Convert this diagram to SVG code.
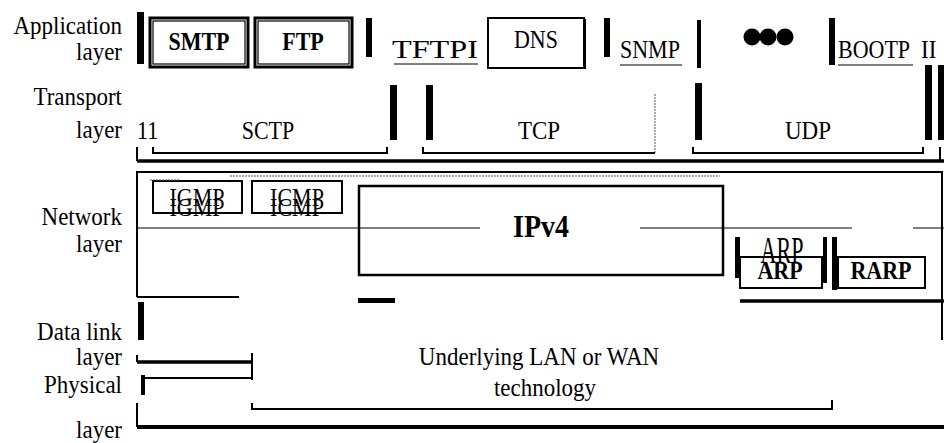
<svg xmlns="http://www.w3.org/2000/svg" width="944" height="443" viewBox="0 0 944 443">
<style>
text{font-family:"Liberation Serif","Times New Roman",serif;font-size:22px;fill:#000}
.lbl{text-anchor:end;font-size:23px}
.big{font-size:23px}
.b{font-weight:bold}
.mid{text-anchor:middle}
.box{fill:none;stroke:#000;stroke-width:2}
.box3{fill:none;stroke:#000;stroke-width:3}
.bar{fill:#000}
.ln{fill:none;stroke:#000;stroke-width:2}
.thin{fill:none;stroke:#000;stroke-width:1.2}
.dot{fill:none;stroke:#555;stroke-width:1;stroke-dasharray:2 1}
.thick{fill:none;stroke:#000;stroke-width:3.5}
</style>
<rect width="944" height="443" fill="#fff"/>

<g id="labels">
<text class="lbl" x="122" y="34" transform="matrix(1 0 0 1.12 0 -4.08)">Application</text>
<text class="lbl" x="122" y="60" transform="matrix(1 0 0 1.12 0 -7.2)">layer</text>
<text class="lbl" x="122" y="105" transform="matrix(1 0 0 1.12 0 -12.6)">Transport</text>
<text class="lbl" x="122" y="138" transform="matrix(1 0 0 1.12 0 -16.56)">layer</text>
<text class="lbl" x="122" y="225" transform="matrix(1 0 0 1.12 0 -27)">Network</text>
<text class="lbl" x="122" y="252" transform="matrix(1 0 0 1.12 0 -30.24)">layer</text>
<text class="lbl" x="122" y="340" transform="matrix(1 0 0 1.12 0 -40.8)">Data link</text>
<text class="lbl" x="122" y="365" transform="matrix(1 0 0 1.12 0 -43.8)">layer</text>
<text class="lbl" x="122" y="393" transform="matrix(1 0 0 1.12 0 -47.16)">Physical</text>
<text class="lbl" x="122" y="438" transform="matrix(1 0 0 1.12 0 -52.56)">layer</text>
</g>

<g id="application">
<rect class="bar" x="137" y="12" width="7" height="52"/>
<g id="smtp"><rect class="box3" x="150" y="18" width="98" height="49"/><rect class="thin" x="153" y="21" width="92" height="43"/><text class="b mid" x="199" y="50" transform="matrix(1 0 0 1.12 0 -6)">SMTP</text></g>
<g id="ftp"><rect class="box3" x="255" y="18" width="97" height="49"/><rect class="thin" x="258" y="21" width="91" height="43"/><text class="b mid" x="303" y="50" transform="matrix(1 0 0 1.12 0 -6)">FTP</text></g>
<rect class="bar" x="366" y="18" width="6" height="39"/>
<g id="tftp"><text x="392" y="58" textLength="86" lengthAdjust="spacingAndGlyphs" transform="matrix(1 0 0 1.12 0 -6.96)">TFTPI</text></g>
<g id="dns"><rect class="box" x="488" y="18" width="96" height="50"/><path class="ln" d="M489,68 H585 V19"/><text class="mid" x="536" y="48" transform="matrix(1 0 0 1.12 0 -5.76)">DNS</text></g>
<rect class="bar" x="604" y="18" width="6" height="39"/>
<g id="snmp"><text x="620" y="58" transform="matrix(1 0 0 1.12 0 -6.96)">SNMP</text></g>
<rect class="bar" x="697" y="20" width="4" height="48"/>
<g id="dots"><circle cx="752" cy="37" r="8.5"/><circle cx="768" cy="37" r="8.5"/><circle cx="785" cy="37" r="8.5"/></g>
<rect class="bar" x="829" y="18" width="6" height="47"/>
<g id="bootp"><text x="838" y="58" transform="matrix(1 0 0 1.12 0 -6.96)">BOOTP</text></g>
<text class="big" x="921" y="58" transform="matrix(1 0 0 1.12 0 -6.96)">II</text>
</g>

<g id="transport">
<text x="137" y="139" transform="matrix(1 0 0 1.12 0 -16.68)">11</text>
<g id="sctp"><text class="mid" x="268" y="139" transform="matrix(1 0 0 1.12 0 -16.68)">SCTP</text></g>
<rect class="bar" x="390" y="85" width="7" height="55"/>
<rect class="bar" x="426" y="85" width="7" height="55"/>
<g id="tcp"><text class="mid big" x="539" y="139" transform="matrix(1 0 0 1.12 0 -16.68)">TCP</text></g>
<rect class="bar" x="695" y="83" width="7" height="57"/>
<g id="udp"><text class="mid big" x="808" y="139" transform="matrix(1 0 0 1.12 0 -16.68)">UDP</text></g>
<rect class="bar" x="925" y="65" width="7" height="75"/>
<rect class="bar" x="938" y="65" width="6" height="75"/>
</g>

<g id="network">
<g id="igmp"><rect class="box" x="153" y="181" width="89" height="32"/><text class="mid" x="197" y="206" transform="matrix(1 0 0 1.12 0 -24.72)">IGMP</text><text class="mid" x="197" y="216" transform="matrix(1 0 0 1.12 0 -25.92)">IGMP</text></g>
<g id="icmp"><rect class="box" x="252" y="181" width="90" height="32"/><text class="mid" x="297" y="206" transform="matrix(1 0 0 1.12 0 -24.72)">ICMP</text><text class="mid" x="297" y="216" transform="matrix(1 0 0 1.12 0 -25.92)">ICMP</text></g>
<g id="ipv4"><path class="ln" d="M723,186 H359 V275 H723 Z" style="stroke-width:2.5"/><text class="b" x="513" y="237" style="font-size:28px" transform="matrix(1 0 0 1.1 0 -23.7)">IPv4</text></g>
<g id="arp">
<rect class="bar" x="735" y="237" width="5" height="41"/>
<rect class="box" x="740" y="257" width="82" height="31"/>
<text class="mid" x="782" y="263" transform="matrix(1 0 0 1.75 0 -197.25)">ARP</text>
<text class="b mid" x="780" y="279" transform="matrix(1 0 0 1.12 0 -33.48)">ARP</text>
<rect class="bar" x="823" y="237" width="4" height="46"/>
<rect class="bar" x="832" y="237" width="5" height="53"/>
</g>
<g id="rarp"><rect class="box" x="838" y="257" width="87" height="31"/><text class="b mid" x="881" y="279" transform="matrix(1 0 0 1.12 0 -33.48)">RARP</text></g>
<rect class="bar" x="358" y="298" width="37" height="5"/>
</g>

<g id="datalink">
<rect class="bar" x="138" y="302" width="6" height="38"/>
<text class="mid big" x="539" y="365" transform="matrix(1 0 0 1.12 0 -43.8)">Underlying LAN or WAN</text>
<text class="mid big" x="545" y="396" transform="matrix(1 0 0 1.12 0 -47.52)">technology</text>
</g>

<g id="connectors">
<path class="thin" d="M394,64 H478 M620,65 H682 M838,65 H913"/>
<path class="ln" d="M137,147 V161 M153,147 V153 H387 V147 M423,147 V153 H655 M693,147 V153 H923 V147 M940,147 V161"/>
<path class="dot" d="M655,153 V93"/>
<path class="thick" d="M137,161 H944"/>
<path class="ln" d="M137,297 V172 H942 V340 M137,297 H239"/>
<path class="dot" d="M230,176 H720 M150,180 H180"/>
<path class="thin" d="M137,228 H480 M640,228 H852 M913,228 H944"/>
<path class="thick" d="M740,301 H944"/>
<path class="thick" d="M137,362 H252"/>
<path class="ln" d="M137,355 V362 M252,353 V380 M142,378 H252"/>
<rect class="bar" x="141" y="375" width="4" height="20"/>
<path class="ln" d="M252,403 V409 H832 V400"/>
<path class="ln" d="M137,403 V427"/>
<path class="thick" d="M137,427 H944" style="stroke-width:4"/>
</g>
</svg>
